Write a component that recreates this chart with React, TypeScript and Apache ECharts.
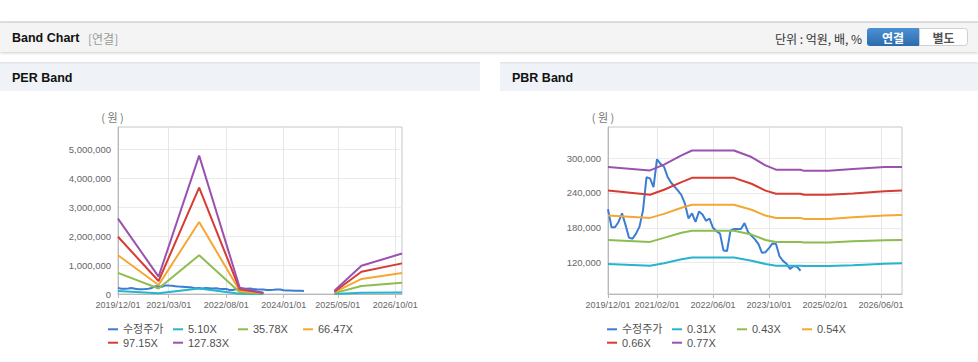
import React, { useEffect, useRef } from 'react';
import * as echarts from 'echarts';

// monthly categories 2019/12/01 .. 2026/12/01
const months: string[] = [];
for (let i = 0; i <= 84; i++) {
  const y = 2019 + Math.floor((11 + i) / 12);
  const mo = ((11 + i) % 12) + 1;
  months.push(`${y}/${String(mo).padStart(2, '0')}/01`);
}

const perLabelIdx = [0, 15, 32, 49, 65, 82];
const pbrLabelIdx = [0, 14, 30, 46, 62, 78];
const perTicks = [0, 1000000, 2000000, 3000000, 4000000, 5000000];
const pbrTicks = [120000, 180000, 240000, 300000];

// 수정주가 (monthly, from 2019/12)
const price = [
  212000, 181000, 181000, 190000, 205000, 185000, 163000, 161000, 170000, 182000,
  210000, 267000, 265000, 250000, 298000, 290000, 285000, 268000, 258000, 251000,
  244000, 236000, 221000, 196000, 205000, 190000, 208000, 203000, 192000, 196000,
  180000, 174000, 170000, 141000, 140000, 175000, 178000, 178000, 178000, 188000,
  173000, 166000, 160000, 152000, 137000, 138000, 145000, 153000, 152000, 131000,
  123000, 118000, 109000, 114000, 113000, 106000,
];

// PER bands: [month index, value]
const per510 = [[0, 104000], [12, 30000], [24, 190000], [36, 8000], [43, 2000], [50, null], [64, 4000], [72, 40000], [84, 56000]];
const per3578 = [[0, 730000], [12, 190000], [24, 1340000], [36, 60000], [43, 13000], [50, null], [64, 30000], [72, 280000], [84, 390000]];
const per6647 = [[0, 1340000], [12, 310000], [24, 2490000], [36, 110000], [43, 25000], [50, null], [64, 55000], [72, 520000], [84, 730000]];
const per9715 = [[0, 1980000], [12, 450000], [24, 3680000], [36, 160000], [43, 35000], [50, null], [64, 80000], [72, 770000], [84, 1060000]];
const per12783 = [[0, 2610000], [12, 600000], [24, 4790000], [36, 220000], [43, 45000], [50, null], [64, 110000], [72, 980000], [84, 1400000]];

// PBR bands: [month index, value]
const pbr031 = [[0, 117700], [12, 114800], [16, 118800], [21, 125700], [24, 129000], [36, 129000], [41, 123400], [45, 117700], [48, 114800], [55, 114800], [56, 114200], [63, 114200], [70, 115400], [79, 118000], [84, 118800]];
const pbr043 = [[0, 159000], [12, 155700], [16, 162600], [21, 171300], [24, 175000], [36, 175000], [41, 168300], [45, 159000], [48, 155700], [55, 155700], [56, 154500], [63, 154500], [70, 157000], [79, 158500], [84, 159000]];
const pbr054 = [[0, 201000], [12, 197000], [16, 204000], [21, 214400], [24, 219600], [36, 219600], [41, 211000], [45, 201000], [48, 197000], [55, 197000], [56, 195300], [63, 195300], [70, 198000], [79, 201000], [84, 202000]];
const pbr066 = [[0, 244000], [12, 236800], [16, 245500], [21, 258600], [24, 266000], [36, 266000], [41, 255800], [45, 244000], [48, 238600], [55, 238600], [56, 236800], [63, 236800], [70, 239000], [79, 243000], [84, 244000]];
const pbr077 = [[0, 284500], [12, 278800], [16, 288600], [21, 304700], [24, 313000], [36, 313000], [41, 301800], [45, 287400], [48, 280000], [55, 280000], [56, 278000], [63, 278000], [70, 281000], [79, 284500], [84, 284500]];

const perNames = ['수정주가', '5.10X', '35.78X', '66.47X', '97.15X', '127.83X'];
const pbrNames = ['수정주가', '0.31X', '0.43X', '0.54X', '0.66X', '0.77X'];
const colors = ['#3a7dd2', '#27b4cc', '#8cbd4e', '#f5a733', '#d63b34', '#9a52b0'];

const KR = '"Noto Sans CJK KR", "Liberation Sans", sans-serif';
const LAT = '"Liberation Sans", Arial, sans-serif';

const fmt = (v: number) => String(Math.round(v)).replace(/\B(?=(\d{3})+(?!\d))/g, ',');

function xAxis(gridIndex: number, idx: number[]) {
  const f = (i: number) => idx.includes(i);
  return {
    gridIndex,
    type: 'category',
    data: months,
    boundaryGap: false,
    axisLine: { show: true, lineStyle: { color: '#b8b8b8', width: 1 } },
    axisTick: { show: true, interval: f, length: 4, lineStyle: { color: '#b8b8b8' } },
    axisLabel: { interval: f, fontSize: 9, color: '#666', margin: 6, fontFamily: LAT },
    splitLine: { show: true, interval: f, lineStyle: { color: '#e6e6e6', width: 1 } },
  };
}

function yAxis(gridIndex: number, min: number, max: number, ticks: number[]) {
  return {
    gridIndex,
    type: 'value',
    min,
    max,
    axisLine: { show: true, lineStyle: { color: '#b8b8b8', width: 1 } },
    axisTick: { show: false, customValues: ticks },
    axisLabel: { customValues: ticks, formatter: fmt, fontSize: 9.5, color: '#666', margin: 7, fontFamily: LAT },
    splitLine: { show: true, lineStyle: { color: '#ebebeb', width: 1 } },
  };
}

function line(name: string, data: any[], color: string, ai: number) {
  return {
    type: 'line',
    name,
    data,
    xAxisIndex: ai,
    yAxisIndex: ai,
    symbol: 'none',
    showSymbol: false,
    connectNulls: false,
    lineStyle: { width: 2, color },
    itemStyle: { color },
    silent: true,
  };
}

function legend(left: number, names: string[]) {
  return {
    left,
    top: 322.6,
    width: 262,
    orient: 'horizontal',
    padding: 0,
    itemGap: 0,
    itemWidth: 10,
    itemHeight: 2,
    icon: 'rect',
    selectedMode: false,
    data: names,
    textStyle: { fontSize: 11, color: '#505050', width: 50, lineHeight: 13.4, fontFamily: `${LAT}, "Noto Sans CJK KR"` },
  };
}

export default function App() {
  const ref = useRef<HTMLDivElement>(null);
  useEffect(() => {
    if (!ref.current) return;
    const chart = echarts.init(ref.current, undefined, { renderer: 'svg' });
    const blue = new echarts.graphic.LinearGradient(0, 0, 0, 1, [
      { offset: 0, color: '#4c91d4' },
      { offset: 1, color: '#2c6bad' },
    ]);
    const option: any = {
      animation: false,
      backgroundColor: '#ffffff',
      graphic: [
        { type: 'rect', silent: true, shape: { x: 0, y: 21, width: 978, height: 2 }, style: { fill: '#e0e0e0' } },
        { type: 'rect', silent: true, shape: { x: 0, y: 23, width: 978, height: 29 }, style: { fill: '#f4f4f4', shadowBlur: 3, shadowOffsetY: 1, shadowColor: 'rgba(0,0,0,0.2)' } },
        { type: 'text', silent: true, x: 12, y: 38, style: { text: 'Band Chart', fontSize: 12.5, fontWeight: 'bold', fontFamily: LAT, fill: '#111', verticalAlign: 'middle' } },
        { type: 'text', silent: true, x: 88, y: 38, style: { text: '[연결]', fontSize: 12, fontFamily: KR, fill: '#9a9a9a', verticalAlign: 'middle' } },
        { type: 'text', silent: true, x: 862, y: 38, style: { text: '단위 : 억원, 배, %', fontSize: 12, fontFamily: KR, fill: '#333', align: 'right', verticalAlign: 'middle' } },
        { type: 'rect', silent: true, shape: { x: 867, y: 28, width: 52, height: 18, r: [3, 0, 0, 3] }, style: { fill: blue } },
        { type: 'text', silent: true, x: 893, y: 37, style: { text: '연결', fontSize: 12, fontWeight: 'bold', fontFamily: KR, fill: '#fff', align: 'center', verticalAlign: 'middle' } },
        { type: 'rect', silent: true, shape: { x: 919.5, y: 28.5, width: 48, height: 17, r: [0, 3, 3, 0] }, style: { fill: '#fff', stroke: '#cfcfcf', lineWidth: 1 } },
        { type: 'text', silent: true, x: 943.5, y: 37, style: { text: '별도', fontSize: 12, fontWeight: 'bold', fontFamily: KR, fill: '#555', align: 'center', verticalAlign: 'middle' } },

        { type: 'rect', silent: true, shape: { x: 0, y: 62, width: 480, height: 29 }, style: { fill: '#eff2f6' } },
        { type: 'rect', silent: true, shape: { x: 0, y: 62, width: 480, height: 1.5 }, style: { fill: '#e1e5eb' } },
        { type: 'text', silent: true, x: 12, y: 78, style: { text: 'PER Band', fontSize: 12.5, fontWeight: 'bold', fontFamily: LAT, fill: '#111', verticalAlign: 'middle' } },
        { type: 'rect', silent: true, shape: { x: 500, y: 62, width: 478, height: 29 }, style: { fill: '#eff2f6' } },
        { type: 'rect', silent: true, shape: { x: 500, y: 62, width: 478, height: 1.5 }, style: { fill: '#e1e5eb' } },
        { type: 'text', silent: true, x: 512, y: 78, style: { text: 'PBR Band', fontSize: 12.5, fontWeight: 'bold', fontFamily: LAT, fill: '#111', verticalAlign: 'middle' } },

        { type: 'text', silent: true, x: 112.5, y: 116.5, style: { text: '( 원 )', fontSize: 11, fontFamily: KR, fill: '#777', align: 'center', verticalAlign: 'middle' } },
        { type: 'text', silent: true, x: 603, y: 116.5, style: { text: '( 원 )', fontSize: 11, fontFamily: KR, fill: '#777', align: 'center', verticalAlign: 'middle' } },
      ],
      grid: [
        { left: 118, top: 127, width: 284, height: 167, show: true, borderColor: '#c6c6c6', borderWidth: 1, backgroundColor: 'transparent' },
        { left: 608, top: 127, width: 294, height: 167, show: true, borderColor: '#c6c6c6', borderWidth: 1, backgroundColor: 'transparent' },
      ],
      xAxis: [xAxis(0, perLabelIdx), xAxis(1, pbrLabelIdx)],
      yAxis: [yAxis(0, 0, 5780000, perTicks), yAxis(1, 66000, 353500, pbrTicks)],
      legend: [legend(108, perNames), legend(607, pbrNames)],
      series: [
        line(perNames[0], price, colors[0], 0),
        line(perNames[1], per510, colors[1], 0),
        line(perNames[2], per3578, colors[2], 0),
        line(perNames[3], per6647, colors[3], 0),
        line(perNames[4], per9715, colors[4], 0),
        line(perNames[5], per12783, colors[5], 0),
        line(pbrNames[0], price, colors[0], 1),
        line(pbrNames[1], pbr031, colors[1], 1),
        line(pbrNames[2], pbr043, colors[2], 1),
        line(pbrNames[3], pbr054, colors[3], 1),
        line(pbrNames[4], pbr066, colors[4], 1),
        line(pbrNames[5], pbr077, colors[5], 1),
      ],
    };
    chart.setOption(option);
    return () => chart.dispose();
  }, []);
  return (
    <div
      ref={ref}
      style={{ position: 'absolute', left: 0, top: 0, width: 978, height: 362, background: '#fff' }}
    />
  );
}
